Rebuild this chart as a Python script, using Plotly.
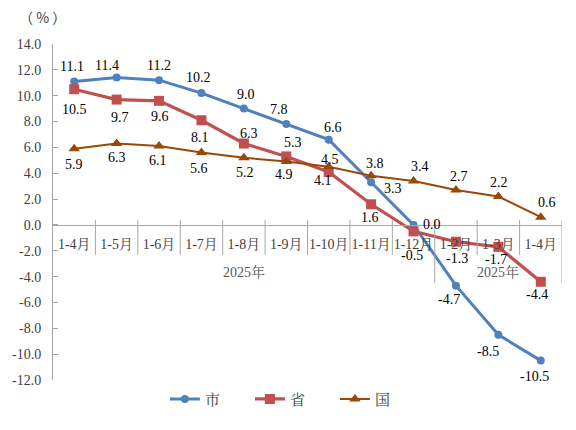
import plotly.graph_objects as go

# ---------------- data ----------------
months = ["1-4月", "1-5月", "1-6月", "1-7月", "1-8月", "1-9月", "1-10月",
          "1-11月", "1-12月", "1-2月", "1-3月", "1-4月"]
year_groups = ["2025年", "2025年"]
group_sizes = [9, 3]
city = [11.1, 11.4, 11.2, 10.2, 9.0, 7.8, 6.6, 3.3, 0.0, -4.7, -8.5, -10.5]
province = [10.5, 9.7, 9.6, 8.1, 6.3, 5.3, 4.1, 1.6, -0.5, -1.3, -1.7, -4.4]
nation = [5.9, 6.3, 6.1, 5.6, 5.2, 4.9, 4.5, 3.8, 3.4, 2.7, 2.2, 0.6]
series_names = ["市", "省", "国"]
y_ticks = [-12, -10, -8, -6, -4, -2, 0, 2, 4, 6, 8, 10, 12, 14]

# ---------------- styles ----------------
colors = ["#4F81BD", "#C0504D", "#984807"]
symbols = ["circle", "square", "triangle-up"]
msizes = [8, 10, 10]
lwidths = [3, 3.2, 2]
# label pixel offsets (dx, dy) for each point of each series
offsets = [
    [(-2, 15), (-10, 12), (0, 15), (-3, 16), (2, 14), (-7, 15), (4, 12),
     (22, -6), (18, 0), (-7, -14), (-10, -17), (-6, -16)],
    [(0, -20), (3, -18), (1, -16), (-1, -17), (5, 10), (7, 14), (-6, -9),
     (-1, -13), (-2, -24), (1, -17), (-2, -13), (-4, -13)],
    [(0, -16), (0, -14), (-1, -14), (-2, -16), (1, -15), (-2, -13), (1, 7),
     (4, 12), (6, 14), (3, 14), (1, 14), (6, 15)],
]

SERIF = "Liberation Serif, 'Noto Serif CJK SC', 'Noto Sans CJK SC', serif"
AXIS_GRAY = "#A6A6A6"
TEXT_GRAY = "#404040"

ymin, ymax = y_ticks[0], y_ticks[-1]
xs = list(range(len(months)))

fig = go.Figure()
all_series = [city, province, nation]
for k, vals in enumerate(all_series):
    fig.add_trace(go.Scatter(
        x=xs, y=vals, name=series_names[k], mode="lines+markers",
        line=dict(color=colors[k], width=lwidths[k]),
        marker=dict(symbol=symbols[k], size=msizes[k], color=colors[k]),
        hoverinfo="skip",
    ))

annotations = []
for k, vals in enumerate(all_series):
    for i, v in enumerate(vals):
        dx, dy = offsets[k][i]
        annotations.append(dict(
            x=xs[i], y=v, xref="x", yref="y", text=f"{v:.1f}",
            showarrow=False, xshift=dx, yshift=dy,
            font=dict(family=SERIF, size=14, color="black"),
        ))

# year group labels
start = 0
for g, n in zip(year_groups, group_sizes):
    center = (xs[start] + xs[start + n - 1]) / 2
    annotations.append(dict(
        x=center, y=0.291, xref="x", yref="paper", text=g, showarrow=False,
        font=dict(family=SERIF, size=14, color="#595959"),
    ))
    start += n

# unit label
annotations.append(dict(
    x=0, y=1, xref="paper", yref="paper", text="（ % ）", showarrow=False,
    xanchor="left", yanchor="middle", xshift=-36, yshift=27,
    font=dict(family="'Noto Sans CJK SC', sans-serif", size=14, color=TEXT_GRAY),
))

# category dividers
shapes = []
group_bounds = set()
acc = 0
for n in group_sizes:
    acc += n
    group_bounds.add(acc)
for b in range(1, len(months) + 1):
    xb = b - 0.5
    long = b in group_bounds
    shapes.append(dict(
        type="line", xref="x", yref="y", x0=xb, x1=xb,
        y0=0.39, y1=(-4.5 if long else -2.32),
        line=dict(color=AXIS_GRAY, width=1),
    ))

fig.update_layout(
    width=576, height=430,
    margin=dict(l=48, r=14, t=44, b=50),
    paper_bgcolor="white", plot_bgcolor="white",
    showlegend=True,
    legend=dict(
        orientation="h", x=(161 - 48) / 514, xanchor="left",
        y=-0.057, yanchor="middle",
        font=dict(family=SERIF, size=15, color=TEXT_GRAY),
        entrywidth=40, entrywidthmode="pixels",
        bgcolor="rgba(0,0,0,0)",
    ),
    annotations=annotations,
    shapes=shapes,
    xaxis=dict(
        range=[-0.5, len(months) - 0.5],
        tickmode="array", tickvals=xs, ticktext=months,
        ticks="", showgrid=False, zeroline=False,
        showline=True, linecolor=AXIS_GRAY, linewidth=1,
        anchor="free", position=(0 - ymin) / (ymax - ymin),
        tickfont=dict(family=SERIF, size=14, color=TEXT_GRAY),
        ticklabelstandoff=6,
    ),
    yaxis=dict(
        range=[ymin, ymax],
        tickmode="array", tickvals=y_ticks,
        ticktext=[f"{v:.1f}" for v in y_ticks],
        ticks="inside", ticklen=5, tickcolor=AXIS_GRAY,
        showgrid=False, zeroline=False,
        showline=True, linecolor=AXIS_GRAY, linewidth=1,
        tickfont=dict(family=SERIF, size=14, color=TEXT_GRAY),
        ticklabelstandoff=8,
    ),
)

fig.write_html("out.html")
